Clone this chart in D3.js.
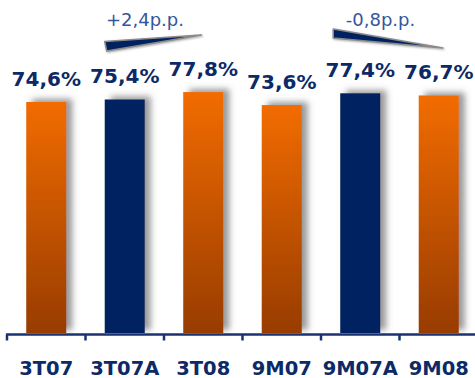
<!DOCTYPE html>
<html><head><meta charset="utf-8">
<script src="https://cdn.jsdelivr.net/npm/d3@7"></script>
<style>html,body{margin:0;padding:0;background:#fff;}svg{display:block;}</style>
</head><body>
<script>
const categories = ["3T07","3T07A","3T08","9M07","9M07A","9M08"];
const values = [74.6, 75.4, 77.8, 73.6, 77.4, 76.7];
const labels = ["74,6%","75,4%","77,8%","73,6%","77,4%","76,7%"];
const isActual = [false, true, false, false, true, false];
const changes = [
  {from: 1, to: 2, text: "+2,4p.p.", dir: "up"},
  {from: 4, to: 5, text: "-0,8p.p.", dir: "down"}
];

const W = 475, H = 378;
const svg = d3.select("body").append("svg").attr("width", W).attr("height", H);
const defs = svg.append("defs");
const grad = defs.append("linearGradient").attr("id","og").attr("x1",0).attr("y1",0).attr("x2",0).attr("y2",1);
grad.append("stop").attr("offset","0%").attr("stop-color","#f26c00");
grad.append("stop").attr("offset","100%").attr("stop-color","#983c00");
const f = defs.append("filter").attr("id","sh").attr("x","-20%").attr("y","-20%").attr("width","170%").attr("height","140%");
f.append("feDropShadow").attr("dx",6).attr("dy",-3).attr("stdDeviation",3).attr("flood-color","#555").attr("flood-opacity",0.6);
const f2 = defs.append("filter").attr("id","sh2").attr("x","-20%").attr("y","-50%").attr("width","140%").attr("height","200%");
f2.append("feDropShadow").attr("dx",1).attr("dy",1).attr("stdDeviation",0.8).attr("flood-color","#666").attr("flood-opacity",0.6);

const x = d3.scaleBand().domain(categories).range([7, 478]).paddingInner(0.49).paddingOuter(0.245);
const y = d3.scaleLinear().domain([0, 100]).range([333, 23.3]);
const navy = "#002060";

svg.append("g").selectAll("rect").data(categories).join("rect")
  .attr("x", d => x(d)).attr("width", x.bandwidth())
  .attr("y", (d,i) => y(values[i])).attr("height", (d,i) => y(0) - y(values[i]))
  .attr("fill", (d,i) => isActual[i] ? navy : "url(#og)")
  .attr("filter","url(#sh)");

svg.append("g").selectAll("text").data(categories).join("text")
  .attr("x", d => x(d) + x.bandwidth()/2)
  .attr("y", (d,i) => y(values[i]) - 16)
  .attr("text-anchor","middle")
  .attr("font-family","DejaVu Sans").attr("font-weight","bold").attr("font-size","20px")
  .attr("fill","#0c2a66")
  .text((d,i) => labels[i]);

// axis
const step = x.step();
const axisG = svg.append("g").attr("transform","translate(0,334.5)");
axisG.append("line").attr("x1",6).attr("x2",W).attr("y1",0).attr("y2",0).attr("stroke","#1a3270").attr("stroke-width",2.5);
const bounds = d3.range(categories.length).map(i => 7 + i*step);
axisG.selectAll(".tk").data(bounds).join("line").attr("class","tk")
  .attr("x1", d => d).attr("x2", d => d).attr("y1",0).attr("y2",6)
  .attr("stroke","#1a3270").attr("stroke-width",2.5);

const xAxis = svg.append("g").attr("transform","translate(0,374.5)");
xAxis.selectAll("text").data(categories).join("text")
  .attr("x", d => x(d) + x.bandwidth()/2).attr("y",0)
  .attr("text-anchor","middle")
  .attr("font-family","DejaVu Sans").attr("font-weight","bold").attr("font-size","19.5px")
  .attr("fill","#0c2a66").text(d => d);

// change annotations
changes.forEach(c => {
  const x0 = x(categories[c.from]);
  const x1 = x(categories[c.to]) + x.bandwidth() - 22;
  const mid = (x0 + x1) / 2;
  let pts;
  if (c.dir === "up") pts = [[x0, 41.5],[x1, 35],[x0+2, 51]];
  else pts = [[x0-7, 29],[x1+6, 48],[x0-7, 38]];
  svg.append("path").attr("d", d3.line()(pts) + "Z")
    .attr("fill", navy).attr("stroke","#8a8a8a").attr("stroke-width",1.5).attr("stroke-linejoin","round")
    .attr("filter","url(#sh2)");
  svg.append("text").attr("x", mid - 8).attr("y", 26)
    .attr("text-anchor","middle")
    .attr("font-family","DejaVu Sans").attr("font-size","18px")
    .attr("fill","#33579a").text(c.text);
});
</script>
</body></html>
